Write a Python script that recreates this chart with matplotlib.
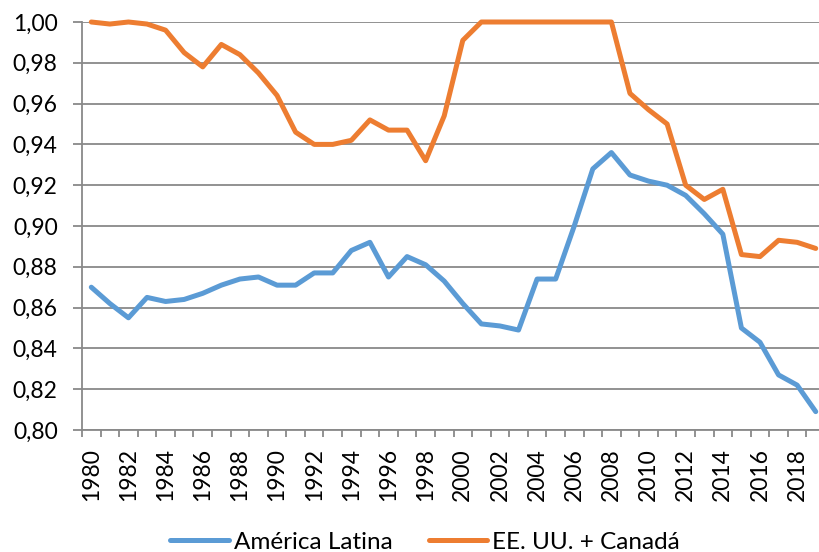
import numpy as np
import matplotlib
matplotlib.use("Agg")
import matplotlib.pyplot as plt
from matplotlib.ticker import FuncFormatter, MultipleLocator

# --- Data -----------------------------------------------------------------
years = list(range(1980, 2020))

america_latina = [0.870, 0.862, 0.855, 0.865, 0.863, 0.864, 0.867, 0.871, 0.874, 0.875,
                  0.871, 0.871, 0.877, 0.877, 0.888, 0.892, 0.875, 0.885, 0.881, 0.873,
                  0.862, 0.852, 0.851, 0.849, 0.874, 0.874, 0.900, 0.928, 0.936, 0.925,
                  0.922, 0.920, 0.915, 0.906, 0.896, 0.850, 0.843, 0.827, 0.822, 0.809]

eeuu_canada = [1.000, 0.999, 1.000, 0.999, 0.996, 0.985, 0.978, 0.989, 0.984, 0.975,
               0.964, 0.946, 0.940, 0.940, 0.942, 0.952, 0.947, 0.947, 0.932, 0.954,
               0.991, 1.000, 1.000, 1.000, 1.000, 1.000, 1.000, 1.000, 1.000, 0.965,
               0.957, 0.950, 0.920, 0.913, 0.918, 0.886, 0.885, 0.893, 0.892, 0.889]

labels = ["América Latina", "EE. UU. + Canadá"]
colors = ["#5B9BD5", "#ED7D31"]

# --- Figure ---------------------------------------------------------------
plt.rcParams["font.family"] = ["Lato", "DejaVu Sans"]
grid_col = "#898989"

fig = plt.figure(figsize=(8.19, 5.52), dpi=100)
ax = fig.add_axes([82 / 819, 1 - 430 / 552, 743 / 819, 408 / 552])

ax.plot(years, america_latina, color=colors[0], lw=3.6, label=labels[0],
        solid_capstyle="round", solid_joinstyle="round", clip_on=False)
ax.plot(years, eeuu_canada, color=colors[1], lw=3.6, label=labels[1],
        solid_capstyle="round", solid_joinstyle="round", clip_on=False)

ax.set_ylim(0.80, 1.00)
ax.set_xlim(1979.5, 2019.5)
ax.yaxis.set_major_locator(MultipleLocator(0.02))
ax.yaxis.set_major_formatter(FuncFormatter(lambda v, p: f"{v:.2f}".replace(".", ",")))
ax.set_xticks(years[::2])
ax.set_xticks(np.arange(1979.5, 2020, 1), minor=True)
ax.set_xticklabels([str(y) for y in years[::2]], rotation=90)

ax.grid(axis="y", color=grid_col, lw=1.3)
ax.set_axisbelow(True)
for s in ["top", "right"]:
    ax.spines[s].set_visible(False)
for s in ["left", "bottom"]:
    ax.spines[s].set_color(grid_col)
    ax.spines[s].set_linewidth(1.3)

ax.tick_params(axis="y", length=6.5, width=1.3, color=grid_col, pad=11, labelsize=16.5)
ax.tick_params(axis="x", which="major", length=0, pad=13, labelsize=16.5)
ax.tick_params(axis="x", which="minor", length=5, width=1.3, color=grid_col)

fig.legend(loc="center", bbox_to_anchor=(425 / 819, 10 / 552), ncol=2, frameon=False,
           fontsize=17.5, handlelength=2.4, columnspacing=1.5, handletextpad=0.2)

fig.savefig("out.png", dpi=100)
